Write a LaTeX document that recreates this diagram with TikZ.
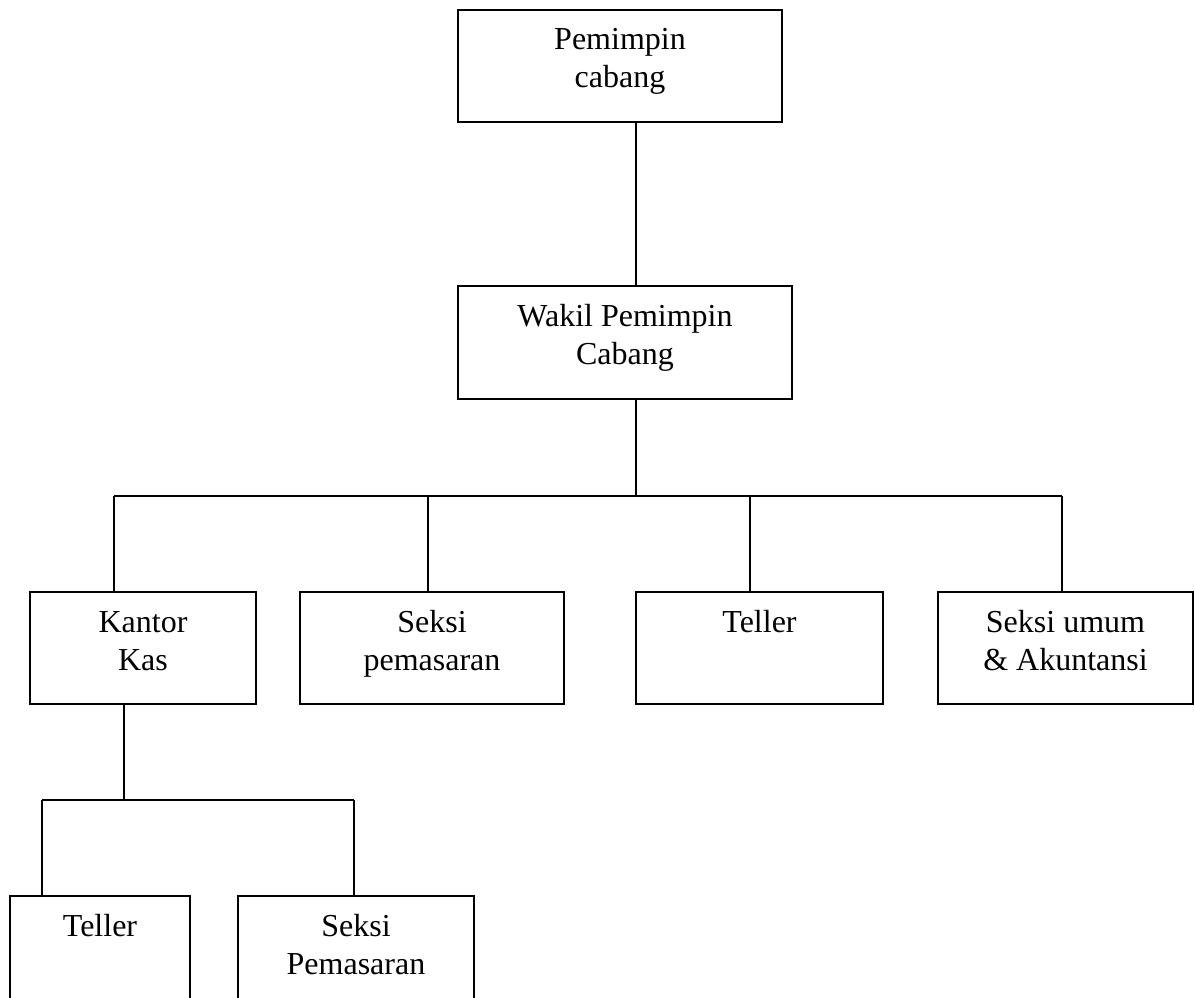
\documentclass[tikz,border=0pt]{standalone}
\usepackage{fontspec}
\setmainfont{Liberation Serif}
\tikzset{
  orgbox/.style={draw=black, line width=1.8pt, inner sep=0pt, outer sep=0pt, fill=white},
  conn/.style={draw=black, line width=1.8pt}
}
% #1 width, #2 height, #3 text
\newcommand\orgtext[3]{\parbox[t][#2][t]{#1}{\centering\fontsize{32pt}{38pt}\selectfont\rule{0pt}{40pt}#3\par}}
\begin{document}
\begin{tikzpicture}[x=1pt,y=-1pt]
\useasboundingbox (0,0) rectangle (1195,998);
\clip (0,0) rectangle (1195,998);
\fill[white] (0,0) rectangle (1195,998);

% boxes
\node[orgbox] (pc)  at (620,66)    {\orgtext{324pt}{112pt}{Pemimpin\\cabang}};
\node[orgbox] (wk)  at (625,342.5) {\orgtext{334pt}{113pt}{Wakil Pemimpin\\Cabang}};
\node[orgbox] (kk)  at (143,648)   {\orgtext{226pt}{112pt}{Kantor\\Kas}};
\node[orgbox] (sp)  at (432,648)   {\orgtext{264pt}{112pt}{Seksi\\pemasaran}};
\node[orgbox] (tl)  at (759.5,648) {\orgtext{247pt}{112pt}{Teller}};
\node[orgbox] (su)  at (1065.5,648){\orgtext{255pt}{112pt}{Seksi umum\\\& Akuntansi}};
\node[orgbox] (t2)  at (100,952)   {\orgtext{180pt}{112pt}{Teller}};
\node[orgbox] (sp2) at (356,952)   {\orgtext{236pt}{112pt}{Seksi\\Pemasaran}};

% junction coordinates
\coordinate (j1) at (636,496);
\coordinate (busL) at (114,496);
\coordinate (c2) at (428,496);
\coordinate (c3) at (750,496);
\coordinate (busR) at (1062,496);
\coordinate (j2) at (124,800);
\coordinate (b1) at (42,800);
\coordinate (b2) at (354,800);

% connectors
\draw[conn] (pc.south -| j1) -- (wk.north -| j1);
\draw[conn] (wk.south -| j1) -- (j1);
\draw[conn] (busL) -- (busR);
\draw[conn] (busL) -- (kk.north -| busL);
\draw[conn] (c2) -- (sp.north -| c2);
\draw[conn] (c3) -- (tl.north -| c3);
\draw[conn] (busR) -- (su.north -| busR);
\draw[conn] (kk.south -| j2) -- (j2);
\draw[conn] (b1) -- (b2);
\draw[conn] (b1) -- (t2.north -| b1);
\draw[conn] (b2) -- (sp2.north -| b2);
\end{tikzpicture}
\end{document}
